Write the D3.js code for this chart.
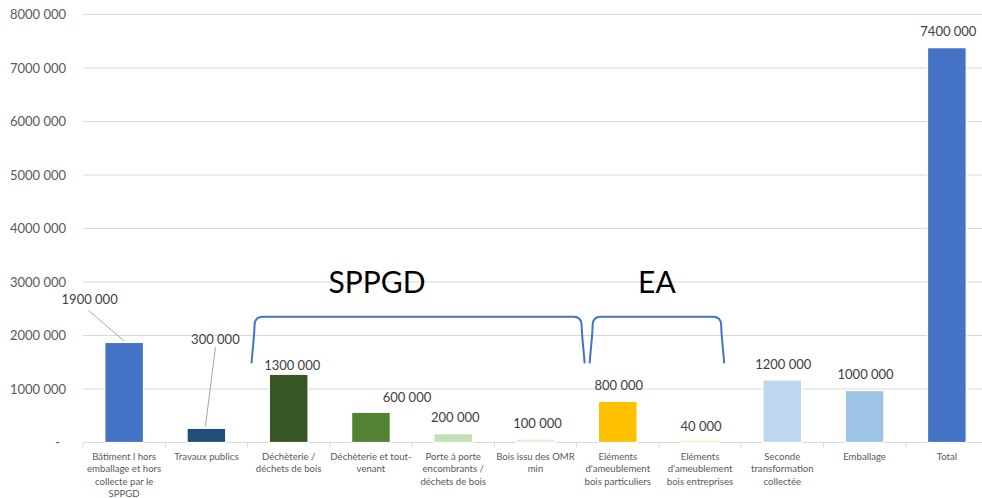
<!DOCTYPE html>
<html><head><meta charset="utf-8">
<script src="https://cdn.jsdelivr.net/npm/d3@7"></script>
<style>body{margin:0;background:#fff;overflow:hidden}svg{display:block}</style>
</head><body><svg id="c" width="982" height="498"></svg>
<script>
const categories = [
  ["Bâtiment l hors","emballage et hors","collecte par le","SPPGD"],
  ["Travaux publics"],
  ["Déchèterie /","déchets de bois"],
  ["Déchèterie et tout-","venant"],
  ["Porte à porte","encombrants /","déchets de bois"],
  ["Bois issu des OMR","min"],
  ["Eléments","d'ameublement","bois particuliers"],
  ["Eléments","d'ameublement","bois entreprises"],
  ["Seconde","transformation","collectée"],
  ["Emballage"],
  ["Total"]
];
const values = [1870000, 265000, 1275000, 565000, 165000, 65000, 770000, 40000, 1170000, 970000, 7380000];
const valueLabels = ["1900 000","300 000","1300 000","600 000","200 000","100 000","800 000","40 000","1200 000","1000 000","7400 000"];
const colors = ["#4472C4","#1F4E79","#375623","#548235","#C5E0B4","#E2F0D9","#FFC000","#FFE699","#BDD7EE","#9DC3E6","#4472C4"];
const yTicks = [0,1000000,2000000,3000000,4000000,5000000,6000000,7000000,8000000];
const yTickLabels = ["-","1000 000","2000 000","3000 000","4000 000","5000 000","6000 000","7000 000","8000 000"];
const groups = [{name:"SPPGD", from:2, to:5}, {name:"EA", from:6, to:7}];

const svg = d3.select("#c");
const font = "Lato, 'Open Sans', sans-serif";
const x = d3.scaleBand().domain(d3.range(categories.length)).range([83, 988]).paddingInner(0.53).paddingOuter(0.265);
const xb = d3.scaleBand().domain(d3.range(categories.length)).range([83, 988]);
const y = d3.scaleLinear().domain([0, 8000000]).range([442.5, 14.5]);

// gridlines
svg.append("g").selectAll("line").data(yTicks.slice(1)).join("line")
  .attr("x1", 83).attr("x2", 982).attr("y1", d => y(d)).attr("y2", d => y(d))
  .attr("stroke", "#d9d9d9").attr("stroke-width", 1);

// y labels
svg.append("g").selectAll("text").data(yTicks).join("text")
  .attr("x", (d,i) => i === 0 ? 60 : 66).attr("y", d => y(d)).attr("dy", "0.35em")
  .attr("text-anchor", "end").attr("font-family", font).attr("font-size", 13).attr("fill", "#595959")
  .text((d,i) => yTickLabels[i]);

// x axis
const xAxis = d3.axisBottom(xb).tickSize(5).tickFormat("");
const gx = svg.append("g").attr("transform", `translate(0,${y(0)})`).call(xAxis);
gx.select(".domain").attr("stroke", "#d9d9d9").attr("d", "M83,0H982");
gx.selectAll(".tick").attr("transform", d => `translate(${xb(d)},0)`);
gx.selectAll(".tick line").attr("stroke", "#d9d9d9");
gx.append("line").attr("x1", xb(10)+xb.bandwidth()).attr("x2", xb(10)+xb.bandwidth()).attr("y1",0).attr("y2",5).attr("stroke","#d9d9d9");

// bars
svg.append("g").selectAll("rect").data(values).join("rect")
  .attr("x", (d,i) => x(i)).attr("width", x.bandwidth())
  .attr("y", d => y(d)).attr("height", d => y(0) - y(d))
  .attr("fill", (d,i) => colors[i]).attr("stroke", "#fff").attr("stroke-width", 1.2);

// category labels
const cat = svg.append("g");
categories.forEach((lines, i) => {
  const t = cat.append("text").attr("text-anchor", "middle").attr("font-family", font)
    .attr("font-size", 9.6).attr("fill", "#595959");
  lines.forEach((ln, j) => {
    t.append("tspan").attr("x", x(i) + x.bandwidth()/2).attr("y", 460 + j*12.4).text(ln);
  });
});

// value labels (with small manual adjustments)
const adj = {0:[-34.5,-43], 1:[9,-89], 2:[3.5,-8.6], 3:[36,-15], 4:[2,-16.4], 5:[2,-15.7], 6:[1,-15.6], 7:[1,-13.7], 8:[1,-15.4], 9:[1,-16.4], 10:[1.5,-16]};
const vl = svg.append("g");
values.forEach((v, i) => {
  const cx = x(i) + x.bandwidth()/2, top = y(v);
  const [dx, dy] = adj[i];
  if (i === 0) {
    vl.append("line").attr("x1", cx + dx - 1).attr("y1", top + dy + 11).attr("x2", cx).attr("y2", top - 1.5)
      .attr("stroke", "#a6a6a6").attr("stroke-width", 1);
  }
  if (i === 1) {
    vl.append("line").attr("x1", cx + dx).attr("y1", top + dy + 8).attr("x2", cx - 1).attr("y2", top - 1.5)
      .attr("stroke", "#a6a6a6").attr("stroke-width", 1);
  }
  vl.append("text").attr("x", cx + dx).attr("y", top + dy).attr("dy", "0.35em")
    .attr("text-anchor", "middle").attr("font-family", font).attr("font-size", 13).attr("fill", "#404040")
    .text(valueLabels[i]);
});

// group braces
const braceTop = y(2350000), braceBot = y(1480000);
const braceAdj = {SPPGD:[4, 8], EA:[13, -17]};
groups.forEach(g => {
  const [al, ar] = braceAdj[g.name];
  const l = xb(g.from) + al, r = xb(g.to) + xb.bandwidth() + ar;
  const p = d3.path();
  p.moveTo(l, braceBot);
  p.bezierCurveTo(l + 1, braceBot - 15, l + 3, braceTop + 18, l + 3, braceTop + 8);
  p.quadraticCurveTo(l + 3.5, braceTop, l + 11, braceTop);
  p.lineTo(r - 11, braceTop);
  p.quadraticCurveTo(r - 3.5, braceTop, r - 3, braceTop + 8);
  p.bezierCurveTo(r - 3, braceTop + 18, r - 1, braceBot - 15, r, braceBot);
  svg.append("path").attr("d", p.toString()).attr("fill", "none").attr("stroke", "#4472C4").attr("stroke-width", 2);
  svg.append("text").attr("x", (l + r) / 2 + (g.name === "SPPGD" ? -41 : 0)).attr("y", y(2800000))
    .attr("text-anchor", "middle").attr("font-family", font).attr("font-size", 30).attr("fill", "#000")
    .text(g.name);
});
</script></body></html>
